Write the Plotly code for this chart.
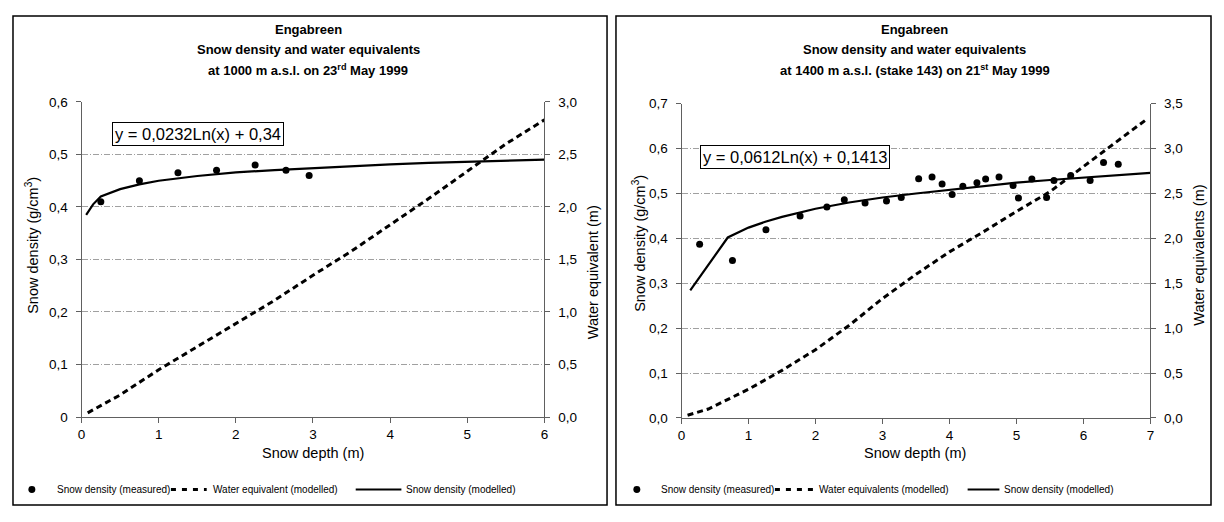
import plotly.graph_objects as go
from plotly.subplots import make_subplots

# ---- Panel A: 1000 m a.s.l., 23rd May 1999 ----
a_meas_depth = [0.25, 0.75, 1.25, 1.75, 2.25, 2.65, 2.95]
a_meas_density = [0.41, 0.45, 0.465, 0.47, 0.48, 0.47, 0.46]

a_mod_depth = [0.06, 0.15, 0.25, 0.5, 0.75, 1.0, 1.5, 2.0, 2.5, 3.0, 3.5, 4.0, 4.5, 5.0, 5.5, 6.0]
a_mod_density = [0.385, 0.405, 0.42, 0.434, 0.443, 0.45, 0.459, 0.466, 0.47, 0.474, 0.478,
                 0.481, 0.484, 0.486, 0.488, 0.49]

a_we_depth = [0.08, 0.5, 1.0, 1.5, 2.0, 2.5, 3.0, 3.5, 4.0, 4.5, 5.0, 5.5, 6.0]
a_we = [0.04, 0.21, 0.45, 0.67, 0.89, 1.11, 1.35, 1.58, 1.83, 2.08, 2.34, 2.6, 2.83]

# ---- Panel B: 1400 m a.s.l. (stake 143), 21st May 1999 ----
b_meas_depth = [0.27, 0.76, 1.26, 1.77, 2.17, 2.43, 2.74, 3.06, 3.28, 3.54, 3.74, 3.89, 4.04,
                4.2, 4.41, 4.54, 4.74, 4.95, 5.03, 5.23, 5.45, 5.56, 5.81, 6.1, 6.3, 6.52]
b_meas_density = [0.387, 0.351, 0.419, 0.45, 0.47, 0.486, 0.479, 0.483, 0.491, 0.533, 0.537,
                  0.521, 0.498, 0.516, 0.524, 0.532, 0.537, 0.518, 0.49, 0.532, 0.491, 0.529,
                  0.54, 0.529, 0.569, 0.565]

b_mod_depth = [0.13, 0.69, 1.0, 1.25, 1.5, 2.0, 2.5, 3.0, 3.5, 4.0, 4.5, 5.0, 5.5, 6.0, 6.5, 7.0]
b_mod_density = [0.284, 0.402, 0.424, 0.437, 0.448, 0.466, 0.48, 0.491, 0.5, 0.508, 0.517,
                 0.524, 0.53, 0.535, 0.54, 0.546]

b_we_depth = [0.09, 0.4, 1.0, 1.5, 2.0, 2.5, 3.0, 3.5, 4.0, 4.5, 5.0, 5.5, 6.0, 6.5, 6.95]
b_we = [0.03, 0.1, 0.32, 0.53, 0.76, 1.03, 1.33, 1.6, 1.85, 2.07, 2.3, 2.52, 2.8, 3.08, 3.33]

OFF = 8  # default page body margin; positions below are window pixels
W, H = 1224 - 2 * OFF, 522 - 2 * OFF
FONT = "Arial, Liberation Sans, sans-serif"
DASH = "6px,4px"


def px(x):
    return (x - OFF) / W


def py(y):
    return 1 - (y - OFF) / H


fig = make_subplots(rows=1, cols=2, specs=[[{"secondary_y": True}, {"secondary_y": True}]])

# left panel traces
fig.add_trace(go.Scatter(x=a_meas_depth, y=a_meas_density, mode="markers",
                         name="Snow density (measured)",
                         marker=dict(color="black", size=7)), row=1, col=1, secondary_y=False)
fig.add_trace(go.Scatter(x=a_we_depth, y=a_we, mode="lines",
                         name="Water equivalent (modelled)",
                         line=dict(color="black", width=3, dash=DASH)), row=1, col=1, secondary_y=True)
fig.add_trace(go.Scatter(x=a_mod_depth, y=a_mod_density, mode="lines",
                         name="Snow density (modelled)",
                         line=dict(color="black", width=2.2)), row=1, col=1, secondary_y=False)

# right panel traces
fig.add_trace(go.Scatter(x=b_meas_depth, y=b_meas_density, mode="markers",
                         name="Snow density (measured)",
                         marker=dict(color="black", size=7)), row=1, col=2, secondary_y=False)
fig.add_trace(go.Scatter(x=b_we_depth, y=b_we, mode="lines",
                         name="Water equivalents (modelled)",
                         line=dict(color="black", width=3, dash=DASH)), row=1, col=2, secondary_y=True)
fig.add_trace(go.Scatter(x=b_mod_depth, y=b_mod_density, mode="lines",
                         name="Snow density (modelled)",
                         line=dict(color="black", width=2.2)), row=1, col=2, secondary_y=False)

tick_font = dict(family=FONT, size=13.5, color="black")
grid = dict(showgrid=True, gridcolor="#a0a0a0", gridwidth=1, griddash="6px,2px,1px,2px")
axis_common = dict(showline=True, linecolor="#606060", linewidth=1, ticks="outside",
                   ticklen=5, tickcolor="#606060", tickfont=tick_font, zeroline=False)

fig.update_layout(
    width=W, height=H,
    margin=dict(l=0, r=0, t=0, b=0),
    paper_bgcolor="white", plot_bgcolor="white",
    separators=", ",
    showlegend=False,
    font=dict(family=FONT, color="black"),
    xaxis=dict(domain=[px(78), px(544)], range=[0, 6], dtick=1, showgrid=False, **axis_common),
    yaxis=dict(domain=[py(422.3), py(97.6)], range=[0, 0.6], dtick=0.1,
               ticklabelstandoff=5, **grid, **axis_common),
    yaxis2=dict(range=[0, 3], dtick=0.5, tickformat=".1f", showgrid=False, side="right",
                overlaying="y", anchor="x", ticklabelstandoff=5, **axis_common),
    xaxis2=dict(domain=[px(682), px(1154)], range=[0, 7], dtick=1, showgrid=False, **axis_common),
    yaxis3=dict(domain=[py(423.3), py(99.4)], range=[0, 0.7], dtick=0.1, tickformat=".1f",
                ticklabelstandoff=5, **grid, **axis_common),
    yaxis4=dict(range=[0, 3.5], dtick=0.5, tickformat=".1f", showgrid=False, side="right",
                overlaying="y3", anchor="x2", ticklabelstandoff=5, **axis_common),
)

# panel frames
for x0, x1 in [(9, 607), (616, 1215)]:
    fig.add_shape(type="rect", xref="paper", yref="paper", x0=px(x0), x1=px(x1),
                  y0=py(513), y1=py(9), line=dict(color="black", width=1.5))

title_font = dict(family=FONT, size=13, color="black")
titles = [
    (306, ["Engabreen", "Snow density and water equivalents",
           "at 1000 m a.s.l. on 23<sup>rd</sup> May 1999"]),
    (917, ["Engabreen", "Snow density and water equivalents",
           "at 1400 m a.s.l. (stake 143) on 21<sup>st</sup> May 1999"]),
]
for cx, lines in titles:
    for i, t in enumerate(lines):
        fig.add_annotation(xref="paper", yref="paper", x=px(cx), y=py(23 + 21 * i),
                           text="<b>" + t + "</b>", showarrow=False, font=title_font,
                           xanchor="center", yanchor="middle")

lab_font = dict(family=FONT, size=14.5, color="black")
labels = [
    (311, 459, 0, "Snow depth (m)"),
    (917, 459, 0, "Snow depth (m)"),
    (28, 245, -90, "Snow density (g/cm<sup>3</sup>)"),
    (593, 273, -90, "Water equivalent (m)"),
    (639, 243, -90, "Snow density (g/cm<sup>3</sup>)"),
    (1203, 256, -90, "Water equivalents (m)"),
]
for x, y, ang, t in labels:
    fig.add_annotation(xref="paper", yref="paper", x=px(x), y=py(y), text=t, textangle=ang,
                       showarrow=False, font=lab_font, xanchor="center", yanchor="middle")

# trendline equation boxes
eq_font = dict(family=FONT, size=16.5, color="black")
for cx, cy, t in [(195, 131, "y = 0,0232Ln(x) + 0,34"), (796, 154, "y = 0,0612Ln(x) + 0,1413")]:
    fig.add_annotation(xref="paper", yref="paper", x=px(cx), y=py(cy), text=t,
                       showarrow=False, font=eq_font, xanchor="center", yanchor="middle",
                       bordercolor="black", borderwidth=1, borderpad=2, bgcolor="white")

# legend rows (drawn as in the original, one row per panel)
leg_font = dict(family=FONT, size=10, color="black")
LY = 497
legend_rows = [
    dict(dot=28, t1=51, dash=(168, 204), t2=208, line=(354, 400), t3=403,
         names=["Snow density (measured)", "Water equivalent (modelled)", "Snow density (modelled)"]),
    dict(dot=637, t1=659, dash=(776, 815), t2=818, line=(970, 1002), t3=1005,
         names=["Snow density (measured)", "Water equivalents (modelled)", "Snow density (modelled)"]),
]
for row in legend_rows:
    fig.add_shape(type="circle", xref="paper", yref="paper",
                  x0=px(row["dot"] - 3.5), x1=px(row["dot"] + 3.5),
                  y0=py(LY + 3.5), y1=py(LY - 3.5), fillcolor="black", line=dict(width=0))
    fig.add_shape(type="line", xref="paper", yref="paper",
                  x0=px(row["dash"][0]), x1=px(row["dash"][1]), y0=py(LY), y1=py(LY),
                  line=dict(color="black", width=3, dash="5px,6px"))
    fig.add_shape(type="line", xref="paper", yref="paper",
                  x0=px(row["line"][0]), x1=px(row["line"][1]), y0=py(LY), y1=py(LY),
                  line=dict(color="black", width=2))
    for key, name in zip(["t1", "t2", "t3"], row["names"]):
        fig.add_annotation(xref="paper", yref="paper", x=px(row[key]), y=py(LY), text=name,
                           showarrow=False, font=leg_font, xanchor="left", yanchor="middle")

fig.write_html("out.html")
